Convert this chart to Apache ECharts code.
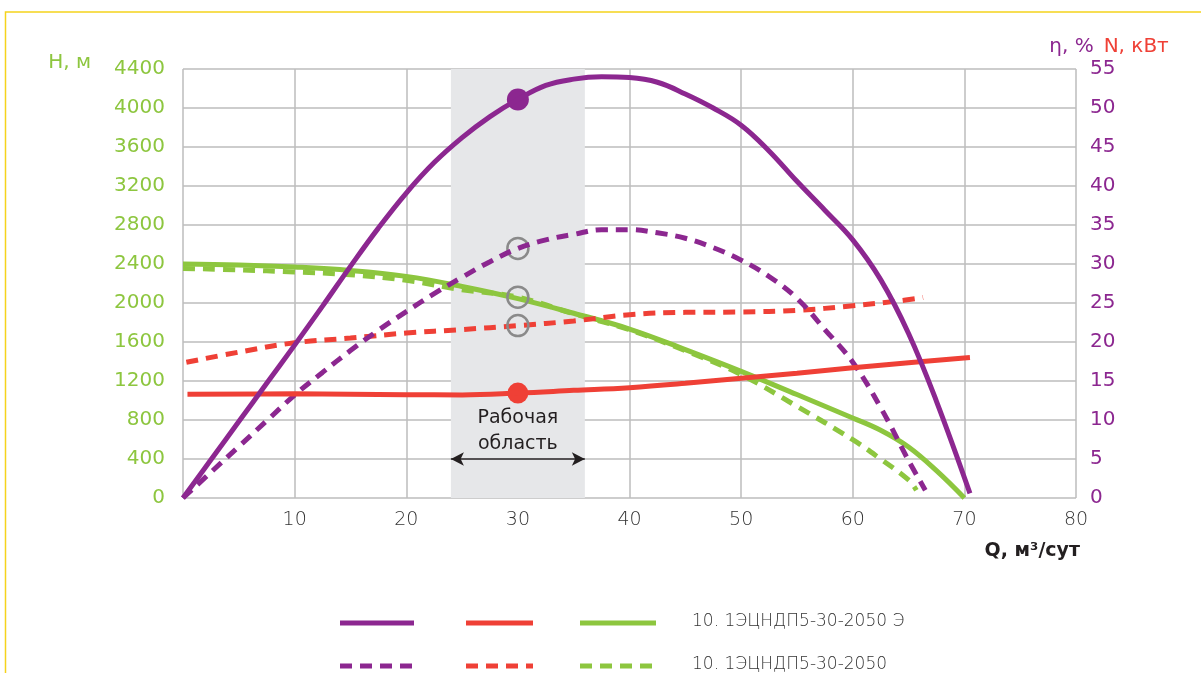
<!DOCTYPE html>
<html>
<head>
<meta charset="utf-8">
<script src="https://cdn.jsdelivr.net/npm/echarts@6/dist/echarts.min.js"></script>
<style>
  html, body { margin: 0; padding: 0; background: #fff; }
  #chart { width: 1201px; height: 673px; }
</style>
</head>
<body>
<div id="chart"></div>
<script>
// Flow axis, Q, m3/day
const xTicks = [0, 10, 20, 30, 40, 50, 60, 70, 80];

// Efficiency η, % (right axis) — pump with "Э" motor (solid) and base model (dashed)
const qEtaE = [0, 2.5, 5, 7.5, 10, 12.5, 15, 17.5, 20, 22.5, 25, 27.5, 30, 32.5, 35, 37.5, 40, 42.5, 45, 47.5, 50, 52.5, 55, 57.5, 60, 62.5, 65, 67.5, 70.5];
const etaE  = [0, 4.9, 9.8, 14.7, 19.6, 24.6, 29.7, 34.6, 39.1, 43.0, 46.2, 48.9, 51.1, 52.9, 53.7, 54.0, 53.9, 53.3, 51.8, 50.0, 47.8, 44.5, 40.6, 36.9, 33.1, 28.0, 21.1, 12.4, 0.6];
const qEtaM = [0, 2.5, 5, 7.5, 10, 12.5, 15, 17.5, 20, 22.5, 25, 27.5, 30, 32.5, 35, 37.5, 40, 42.5, 45, 47.5, 50, 52.5, 55, 57.5, 60, 62.5, 65, 66.5];
const etaM  = [0, 3.3, 6.6, 9.9, 13.2, 16.1, 18.9, 21.5, 23.9, 26.2, 28.3, 30.3, 32.0, 33.1, 33.8, 34.4, 34.4, 34.0, 33.3, 32.1, 30.5, 28.4, 25.6, 21.6, 17.4, 11.6, 4.8, 1.0];

// Head H, m (left axis)
const qHeadE = [0, 5, 10, 15, 20, 25, 30, 35, 40, 45, 50, 55, 60, 62.5, 65, 67.5, 70];
const headE  = [2400, 2390, 2369, 2334, 2273, 2170, 2045, 1895, 1733, 1522, 1299, 1061, 821, 695, 523, 280, 0];
const qHeadM = [0, 5, 10, 15, 20, 25, 30, 35, 40, 45, 50, 55, 60, 62.5, 65, 65.7];
const headM  = [2355, 2340, 2318, 2290, 2232, 2136, 2060, 1890, 1725, 1510, 1265, 940, 598, 400, 185, 80];

// Power N, kW (right axis)
const qPowE = [0.4, 10, 20, 25, 30, 35, 40, 45, 50, 55, 60, 65, 70.5];
const powE  = [13.3, 13.35, 13.25, 13.22, 13.45, 13.8, 14.15, 14.7, 15.35, 16.0, 16.7, 17.35, 18.0];
const qPowM = [0.3, 5, 10, 15, 20, 25, 30, 35, 40, 45, 50, 55, 60, 64, 66.3];
const powM  = [17.4, 18.7, 19.9, 20.5, 21.15, 21.6, 22.1, 22.7, 23.5, 23.8, 23.85, 24.05, 24.65, 25.25, 25.7];

// Duty point and recommended operating range
const dutyQ = 30;
const workRange = [24, 36];
const arrowLevel = 400;   // H level of the range arrow

// Axis tick values
const headTicks = [0, 400, 800, 1200, 1600, 2000, 2400, 2800, 3200, 3600, 4000, 4400];
const rightTicks = [0, 5, 10, 15, 20, 25, 30, 35, 40, 45, 50, 55];

const seriesNames = ['10. 1ЭЦНДП5-30-2050 Э', '10. 1ЭЦНДП5-30-2050'];

const PURPLE = '#8c2790';
const RED = '#ef4036';
const GREEN = '#8dc63f';
const GRID = '#bcbcbc';
const INK = '#231f20';
const FONT = '"DejaVu Sans", "Noto Sans", sans-serif';
const DASH = [12, 8];

function pairs(q, v) { return q.map((x, i) => [x, v[i]]); }
function atDuty(q, v) { return v[q.indexOf(dutyQ)]; }

const filledMark = (color, size) => ({ symbol: 'circle', symbolSize: size, itemStyle: { color: color }, label: { show: false } });
const ringMark = { symbol: 'circle', symbolSize: 21, itemStyle: { color: 'rgba(0,0,0,0)', borderColor: '#8a8a8a', borderWidth: 2.5 }, label: { show: false } };

function curve(name, q, v, color, dashed, yIdx, mark, z) {
  const s = {
    name: name,
    type: 'line',
    yAxisIndex: yIdx,
    data: pairs(q, v),
    smooth: 0.4,
    symbol: 'none',
    silent: true,
    z: z,
    lineStyle: { color: color, width: 5, type: dashed ? DASH : 'solid', cap: 'butt' },
    itemStyle: { color: color }
  };
  if (mark) {
    s.markPoint = Object.assign({ silent: true, animation: false, data: [{ coord: [dutyQ, atDuty(q, v)] }] }, mark);
  }
  return s;
}

const chart = echarts.init(document.getElementById('chart'), null, { renderer: 'canvas' });

const legendRows = [
  { y: 623, dash: null, text: seriesNames[0] },
  { y: 666, dash: DASH, text: seriesNames[1] }
];
const legendSwatches = [
  { x1: 340, x2: 414, color: PURPLE },
  { x1: 466, x2: 533, color: RED },
  { x1: 580, x2: 656, color: GREEN }
];
const legendGraphics = [];
legendRows.forEach(row => {
  legendSwatches.forEach(sw => {
    legendGraphics.push({
      type: 'line', silent: true,
      shape: { x1: sw.x1, y1: row.y, x2: sw.x2, y2: row.y },
      style: { stroke: sw.color, lineWidth: 5, lineDash: row.dash || null }
    });
  });
  legendGraphics.push({
    type: 'text', silent: true, x: 692, y: row.y - 1,
    style: { text: row.text, fill: '#333333', font: '200 17px ' + FONT, textVerticalAlign: 'middle' }
  });
});

const plainNumber = v => String(v);

const option = {
  backgroundColor: '#ffffff',
  animation: false,
  grid: { left: 183, right: 125, top: 69, bottom: 175, containLabel: false },
  xAxis: {
    type: 'value', min: xTicks[0], max: xTicks[xTicks.length - 1], interval: 10,
    name: 'Q, м³/сут',
    nameLocation: 'end', nameGap: 4,
    nameTextStyle: { color: INK, fontFamily: FONT, fontSize: 19, fontWeight: 'bold', align: 'right', verticalAlign: 'top', padding: [44, 0, 0, 0] },
    axisLine: { show: false }, axisTick: { show: false },
    axisLabel: { showMinLabel: false, color: '#333333', fontFamily: FONT, fontSize: 19, fontWeight: 200, margin: 13, formatter: plainNumber },
    splitLine: { show: true, lineStyle: { color: GRID, width: 1.5 } }
  },
  yAxis: [
    {
      type: 'value', min: headTicks[0], max: headTicks[headTicks.length - 1], interval: 400,
      name: 'H, м', nameLocation: 'end', nameGap: 6,
      nameTextStyle: { color: GREEN, fontFamily: FONT, fontSize: 20, align: 'right', verticalAlign: 'middle', padding: [0, 92, 0, 0] },
      axisLine: { show: false }, axisTick: { show: false },
      axisLabel: { color: GREEN, fontFamily: FONT, fontSize: 20, margin: 18, formatter: plainNumber },
      splitLine: { show: true, lineStyle: { color: GRID, width: 1.5 } }
    },
    {
      type: 'value', min: rightTicks[0], max: rightTicks[rightTicks.length - 1], interval: 5,
      position: 'right',
      name: '{eta|η, %}   {n|N, кВт}', nameLocation: 'end', nameGap: 22,
      nameTextStyle: {
        verticalAlign: 'middle', align: 'center', padding: [0, 0, 0, 66],
        rich: {
          eta: { color: PURPLE, fontFamily: FONT, fontSize: 20 },
          n: { color: RED, fontFamily: FONT, fontSize: 20 }
        }
      },
      axisLine: { show: false }, axisTick: { show: false },
      axisLabel: { color: PURPLE, fontFamily: FONT, fontSize: 20, margin: 14, formatter: plainNumber },
      splitLine: { show: false }
    }
  ],
  graphic: [
    { type: 'rect', silent: true, z: -10, shape: { x: 5.5, y: 12, width: 1300, height: 800 }, style: { fill: 'none', stroke: '#f5d31c', lineWidth: 1.5 } }
  ].concat(legendGraphics),
  series: [
    // shaded operating range, kept beneath the grid lines
    {
      name: 'range', type: 'line', data: [], z: -1, silent: true,
      markArea: {
        silent: true, animation: false,
        itemStyle: { color: '#e6e7e9' },
        data: [[{ xAxis: workRange[0] }, { xAxis: workRange[1] }]]
      }
    },
    // double arrow with caption spanning the operating range
    {
      name: 'rangeArrow', type: 'line', data: [], z: 1, silent: true,
      markLine: {
        silent: true, animation: false,
        symbol: ['arrow', 'arrow'], symbolSize: [10, 13],
        lineStyle: { color: INK, width: 1.5, type: 'solid' },
        label: {
          show: true, position: 'middle', distance: 2,
          formatter: 'Рабочая\nобласть',
          color: INK, fontFamily: FONT, fontSize: 19, lineHeight: 26, align: 'center'
        },
        data: [[{ coord: [workRange[0], arrowLevel] }, { coord: [workRange[1], arrowLevel] }]]
      }
    },
    curve('H ' + seriesNames[1], qHeadM, headM, GREEN, true, 0, ringMark, 2),
    curve('H ' + seriesNames[0], qHeadE, headE, GREEN, false, 0, null, 3),
    curve('N ' + seriesNames[1], qPowM, powM, RED, true, 1, ringMark, 4),
    curve('η ' + seriesNames[1], qEtaM, etaM, PURPLE, true, 1, ringMark, 5),
    curve('N ' + seriesNames[0], qPowE, powE, RED, false, 1, filledMark(RED, 21), 6),
    curve('η ' + seriesNames[0], qEtaE, etaE, PURPLE, false, 1, filledMark(PURPLE, 22), 7)
  ]
};

chart.setOption(option);
</script>
</body>
</html>
